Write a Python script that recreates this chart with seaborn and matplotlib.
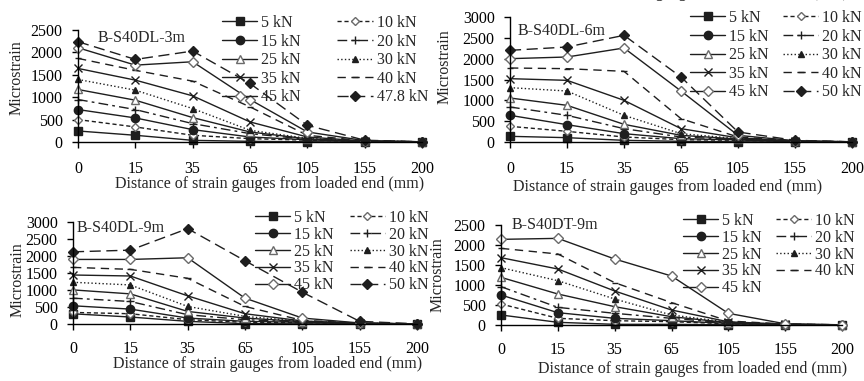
import matplotlib
matplotlib.use("Agg")
import matplotlib.pyplot as plt
import seaborn as sns
import numpy as np

# ---------------- data ----------------
distances = ["0", "15", "35", "65", "105", "155", "200"]

loads_a = ["5 kN", "10 kN", "15 kN", "20 kN", "25 kN", "30 kN", "35 kN", "40 kN", "45 kN", "47.8 kN"]
loads_b = ["5 kN", "10 kN", "15 kN", "20 kN", "25 kN", "30 kN", "35 kN", "40 kN", "45 kN", "50 kN"]
loads_d = ["5 kN", "10 kN", "15 kN", "20 kN", "25 kN", "30 kN", "35 kN", "40 kN", "45 kN"]

# B-S40DL-3m
dl3m_values = [
    [246, 150, 37, 15, 5, 0, 0],
    [500, 336, 150, 75, 40, 10, 0],
    [724, 537, 276, 112, 50, 10, 0],
    [948, 724, 410, 187, 60, 15, 0],
    [1172, 933, 545, 224, 70, 15, 5],
    [1396, 1157, 746, 261, 80, 20, 5],
    [1642, 1381, 1030, 448, 112, 20, 5],
    [1866, 1600, 1358, 784, 150, 25, 5],
    [2104, 1716, 1791, 948, 224, 30, 5],
    [2239, 1843, 2030, 1306, 373, 40, 5],
]
# B-S40DL-6m
dl6m_values = [
    [136, 104, 40, 16, 5, 0, 0],
    [376, 256, 120, 56, 40, 10, 0],
    [640, 416, 200, 80, 50, 10, 0],
    [840, 640, 320, 120, 60, 15, 0],
    [1056, 880, 424, 160, 70, 15, 5],
    [1304, 1224, 640, 200, 80, 20, 5],
    [1520, 1480, 1000, 320, 100, 20, 5],
    [1776, 1760, 1696, 560, 120, 25, 5],
    [2000, 2040, 2256, 1224, 160, 30, 5],
    [2200, 2280, 2560, 1560, 240, 40, 5],
]
# B-S40DL-9m
dl9m_values = [
    [300, 205, 78, 10, 5, 0, 0],
    [340, 302, 127, 50, 40, 10, 0],
    [536, 438, 175, 78, 50, 10, 0],
    [760, 662, 273, 127, 60, 15, 0],
    [1003, 886, 370, 175, 70, 15, 5],
    [1227, 1149, 516, 224, 80, 20, 5],
    [1441, 1412, 828, 302, 90, 20, 5],
    [1665, 1607, 1344, 516, 107, 25, 5],
    [1899, 1899, 1948, 760, 175, 30, 5],
    [2123, 2172, 2805, 1860, 935, 78, 5],
]
# B-S40DT-9m
dt9m_values = [
    [250, 67, 17, 17, 5, 0, 0],
    [525, 167, 108, 83, 30, 5, 0],
    [750, 308, 167, 108, 40, 10, 0],
    [958, 441, 292, 167, 50, 10, 0],
    [1191, 775, 458, 208, 60, 15, 0],
    [1433, 1108, 650, 250, 70, 15, 5],
    [1683, 1400, 850, 375, 80, 20, 5],
    [1916, 1775, 1058, 560, 100, 25, 5],
    [2141, 2166, 1650, 1225, 292, 30, 5],
]

titles = ["B-S40DL-3m", "B-S40DL-6m", "B-S40DL-9m", "B-S40DT-9m"]

# ---------------- style ----------------
sns.set_style("ticks")
plt.rcParams["font.family"] = ["Liberation Serif", "DejaVu Serif"]
plt.rcParams["axes.linewidth"] = 1.0

LC = "#1e1e1e"
GRAY = "#6a6a6a"
styles = [
    dict(linestyle="-", marker="s", markersize=6, markerfacecolor=LC, markeredgecolor=LC),
    dict(linestyle=(0, (3, 2)), marker="D", markersize=4.5, markerfacecolor="white", markeredgecolor=GRAY),
    dict(linestyle="-", marker="o", markersize=6, markerfacecolor=LC, markeredgecolor=LC),
    dict(linestyle=(0, (7, 3, 2, 3)), marker="+", markersize=6, markeredgecolor=LC),
    dict(linestyle="-", marker="^", markersize=6, markerfacecolor="white", markeredgecolor=GRAY),
    dict(linestyle=":", marker="^", markersize=5, markerfacecolor=LC, markeredgecolor=LC),
    dict(linestyle="-", marker="x", markersize=6, markeredgecolor=LC),
    dict(linestyle=(0, (6, 4)), marker="_", markersize=5, markeredgecolor=LC),
    dict(linestyle="-", marker="D", markersize=5.5, markerfacecolor="white", markeredgecolor=GRAY),
    dict(linestyle=(0, (8, 4)), marker="D", markersize=5, markerfacecolor=LC, markeredgecolor=LC),
]

W, H = 864, 381
fig = plt.figure(figsize=(W / 100, H / 100), dpi=100)


def px_axes(x0, x1, ytop, ybot):
    return fig.add_axes([x0 / W, 1 - ybot / H, (x1 - x0) / W, (ybot - ytop) / H])


panels = [
    dict(box=(78, 422, 30, 142), ymax=2500, values=dl3m_values, loads=loads_a,
         title=(98, 38), ylab=(17, 78), xlab=(270, 184), xpad=10,
         leg=(222, 15), colsp=2.3, labsp=0.16),
    dict(box=(510, 852, 17, 142), ymax=3000, values=dl6m_values, loads=loads_b,
         title=(518, 31), ylab=(445, 67), xlab=(668, 187), xpad=10,
         leg=(690, 10), colsp=0.9, labsp=0.16),
    dict(box=(73, 417, 222, 324), ymax=3000, values=dl9m_values, loads=loads_b,
         title=(77, 228), ylab=(18, 280), xlab=(268, 364), xpad=8,
         leg=(255, 210), colsp=1.0, labsp=0.05),
    dict(box=(501, 842, 225, 325), ymax=2500, values=dt9m_values, loads=loads_d,
         title=(512, 225), ylab=(438, 275), xlab=(693, 369), xpad=8,
         leg=(683, 213), colsp=0.9, labsp=0.05),
]

xpos = np.arange(len(distances))
FS = 11.5

for p, title in zip(panels, titles):
    ax = px_axes(*p["box"])
    for load, vals, st in zip(p["loads"], p["values"], styles):
        sns.lineplot(x=xpos, y=vals, ax=ax, color=LC, linewidth=1.0,
                     markeredgewidth=1.0, clip_on=False, label=load, **st)
    lines = ax.get_lines()
    n = len(lines)
    order = list(range(0, n, 2)) + list(range(1, n, 2))
    hs = [lines[i] for i in order]
    ls = [p["loads"][i] for i in order]
    ax.legend(hs, ls, ncol=2, frameon=False, fontsize=FS,
              loc="upper left",
              bbox_to_anchor=(p["leg"][0] / W, 1 - p["leg"][1] / H),
              bbox_transform=fig.transFigure,
              borderpad=0, borderaxespad=0, handlelength=2.2,
              handletextpad=0.25, columnspacing=p["colsp"],
              labelspacing=p["labsp"])
    ax.set_xlim(0, len(distances) - 1)
    ax.set_ylim(0, p["ymax"])
    ax.set_xticks(xpos)
    ax.set_xticklabels(distances)
    ax.set_yticks(np.arange(0, p["ymax"] + 1, 500))
    ax.tick_params(axis="y", direction="out", length=4, width=1, pad=7,
                   labelsize=FS, colors="black")
    ax.tick_params(axis="x", direction="out", length=4, width=1, pad=p["xpad"],
                   labelsize=FS, colors="black")
    ax.set_xlabel("")
    ax.set_ylabel("")
    for s in ["top", "right"]:
        ax.spines[s].set_visible(False)
    ax.spines["left"].set_color("black")
    ax.spines["bottom"].set_color("black")

    fig.text(p["title"][0] / W, 1 - p["title"][1] / H, title, fontsize=FS,
             ha="left", va="center")
    fig.text(p["ylab"][0] / W, 1 - p["ylab"][1] / H, "Microstrain", fontsize=FS,
             rotation=90, ha="center", va="center")
    fig.text(p["xlab"][0] / W, 1 - p["xlab"][1] / H,
             "Distance of strain gauges from loaded end (mm)", fontsize=11.5,
             ha="center", va="center")

# clipped caption remnant at the very top
fig.text(848 / W, 1 + 3 / H, "Distance of strain gauges from loaded end (mm)",
         fontsize=11.5, ha="right", va="baseline")

fig.savefig("out.png", dpi=100)
